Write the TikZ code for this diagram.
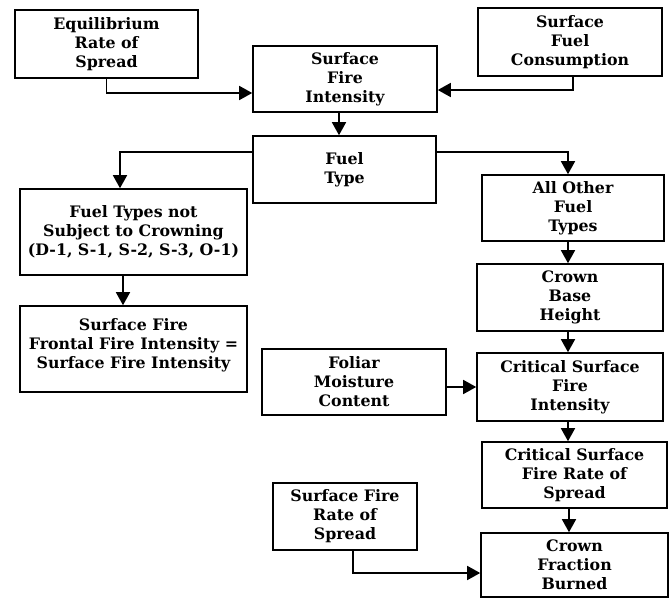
\documentclass[tikz,border=0pt]{standalone}
\usepackage{fontspec}
\setmainfont{DejaVu Serif}
\usetikzlibrary{arrows.meta,calc}
\tikzset{
  box/.style={draw, line width=1.6pt, inner sep=0pt, align=center,
    font=\fontsize{15.8}{19}\selectfont\bfseries},
  arr/.style={line width=1.6pt, -{Triangle[width=14pt,length=13pt]}}
}
\begin{document}
\begin{tikzpicture}[x=1pt,y=-1pt]
\useasboundingbox (0,0) rectangle (672,600);
\node[box, minimum width=183pt, minimum height=68pt] (eq) at (106.5,44) {Equilibrium\\Rate of\\Spread};
\node[box, minimum width=184pt, minimum height=66pt] (sfi) at (345,79) {Surface\\Fire\\Intensity};
\node[box, minimum width=184pt, minimum height=68pt] (sfc) at (570,42) {Surface\\Fuel\\Consumption};
\node[box, minimum width=183pt, minimum height=67pt] (ft) at (344.5,169.5) {Fuel\\Type};
\node[box, minimum width=227pt, minimum height=86pt] (ftn) at (133.5,232) {Fuel Types not\\Subject to Crowning\\(D-1, S-1, S-2, S-3, O-1)};
\node[box, minimum width=227pt, minimum height=86pt] (sff) at (133.5,349) {Surface Fire\\Frontal Fire Intensity =\\Surface Fire Intensity\\[-8pt]};
\node[box, minimum width=182pt, minimum height=66pt] (aof) at (573,208) {All Other\\Fuel\\Types};
\node[box, minimum width=186pt, minimum height=67pt] (cbh) at (570,297.5) {Crown\\Base\\Height};
\node[box, minimum width=184pt, minimum height=66pt] (fmc) at (354,382) {Foliar\\Moisture\\Content};
\node[box, minimum width=186pt, minimum height=68pt] (csfi) at (570,387) {Critical Surface\\Fire\\Intensity};
\node[box, minimum width=185pt, minimum height=66pt] (csfr) at (574.5,475) {Critical Surface\\Fire Rate of\\Spread};
\node[box, minimum width=144pt, minimum height=67pt] (sfr) at (345,516.5) {Surface Fire\\Rate of\\Spread};
\node[box, minimum width=187pt, minimum height=64pt] (cfb) at (574.5,565) {Crown\\Fraction\\Burned};

\draw[arr] (eq.south) |- (sfi.west |- 0,93);
\draw[arr] (sfc.south -| 573,0) |- (sfi.east |- 0,90);
\draw[arr] (sfi.south -| 339,0) -- (ft.north -| 339,0);
\draw[arr] (ft.west |- 0,152) -| (ftn.north -| 120,0);
\draw[arr] (ft.east |- 0,152) -| (aof.north -| 568,0);
\draw[arr] (ftn.south -| 123,0) -- (sff.north -| 123,0);
\draw[arr] (aof.south -| 568,0) -- (cbh.north -| 568,0);
\draw[arr] (cbh.south -| 568,0) -- (csfi.north -| 568,0);
\draw[arr] (fmc.east |- 0,387) -- (csfi.west |- 0,387);
\draw[arr] (csfi.south -| 568,0) -- (csfr.north -| 568,0);
\draw[arr] (csfr.south -| 569,0) -- (cfb.north -| 569,0);
\draw[arr] (sfr.south -| 353,0) |- (cfb.west |- 0,573);
\end{tikzpicture}
\end{document}
